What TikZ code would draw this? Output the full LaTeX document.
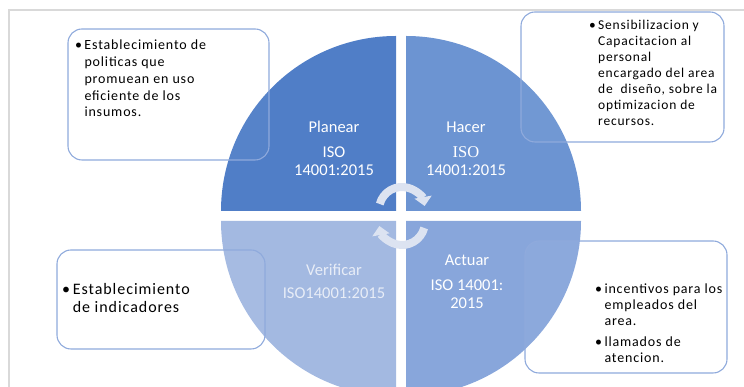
\documentclass[tikz,border=0pt]{standalone}
\usepackage{fontspec}
\setmainfont{Carlito}
\newfontfamily\isoserif{Liberation Serif}
\newfontfamily\cajafont[LetterSpace=6]{Carlito}
\usetikzlibrary{arrows.meta}
\definecolor{planearazul}{HTML}{507EC7}
\definecolor{hacerazul}{HTML}{6C94D2}
\definecolor{actuarazul}{HTML}{88A6DB}
\definecolor{verifazul}{HTML}{A3B9E1}
\definecolor{bordecaja}{HTML}{8FAADC}
\definecolor{flecha}{HTML}{DCE3F1}
\definecolor{marcogris}{HTML}{D9D9D9}
\definecolor{textoclaro}{HTML}{E8EDF7}
\newcommand{\bala}{\textbullet\,}
\newcommand{\sangria}{\hphantom{\textbullet\,}}

\begin{document}
\begin{tikzpicture}[x=1pt,y=1pt,
	caja/.style={draw=bordecaja,line width=1.1pt,rounded corners=14pt,fill=white,fill opacity=0.04},
	nota/.style={anchor=north west,inner sep=0pt,align=left,text=black},
	etiqueta/.style={text=white,inner sep=0pt,font=\fontsize{16.5}{18}\selectfont},
	giro/.style={line width=8pt,draw=flecha,-{Triangle[width=17pt,length=9pt]}}]
			\useasboundingbox (0,0) rectangle (744,387);
			\draw[marcogris,line width=2pt] (9,0) -- (9,377) -- (744,377);
			
			\fill[planearazul] (396,176) -- ++(0,175) arc[start angle=90,end angle=180,radius=175] -- cycle;
			\fill[hacerazul] (406,176) -- ++(175,0) arc[start angle=0,end angle=90,radius=175] -- cycle;
			\fill[verifazul] (396,166) -- ++(-175,0) arc[start angle=180,end angle=270,radius=175] -- cycle;
			\fill[actuarazul] (406,166) -- ++(0,-175) arc[start angle=270,end angle=360,radius=175] -- cycle;
			
			\node (planear) at (334,260)[etiqueta]{Planear};
			\node (planeariso) at (334,235)[etiqueta]{ISO};
			\node (planearnum) at (334,217)[etiqueta]{14001:2015};
			
			\node (hacer) at (466,260)[etiqueta]{Hacer};
			\node (haceriso) at (466,235)[etiqueta,font=\isoserif\fontsize{16.5}{18}\selectfont]{ISO};
			\node (hacernum) at (466,217)[etiqueta]{14001:2015};
			
			\node (verificar) at (334,117)[etiqueta,text=textoclaro]{Verificar};
			\node (verificariso) at (334,94)[etiqueta,text=textoclaro]{ISO14001:2015};
			
			\node (actuar) at (467,127)[etiqueta]{Actuar};
			\node (actuariso) at (467,102)[etiqueta]{ISO 14001:};
			\node (actuarnum) at (467,84)[etiqueta]{2015};
			
			\coordinate (arriba) at (402,177);
			\coordinate (abajo) at (402,165);
			\draw[giro] (arriba) ++(165:23) arc[start angle=165,end angle=10,radius=23];
			\draw[giro] (abajo) ++(-15:23) arc[start angle=-15,end angle=-170,radius=23];
			
			\draw[caja] (68,358) rectangle (269,227);
			\draw[caja] (521,375) rectangle (724,245);
			\draw[caja] (57,137) rectangle (265,38);
			\draw[caja] (525,146) rectangle (727,14);
			
			\node (notaplanear) at (75,347)[nota,font=\cajafont\fontsize{14}{16.75}\selectfont]{\bala Establecimiento de\\ \sangria politicas que\\ \sangria promuean en uso\\ \sangria eficiente de los\\ \sangria insumos.};
			\node (notahacer) at (589,367)[nota,font=\cajafont\fontsize{13.5}{16}\selectfont]{\bala Sensibilizacion y\\ \sangria Capacitacion al\\ \sangria personal\\ \sangria encargado del area\\ \sangria de~ diseño, sobre la\\ \sangria optimizacion de\\ \sangria recursos.};
			\node (notaverificar) at (62,104)[nota,font=\cajafont\fontsize{16}{18}\selectfont]{\bala Establecimiento\\ \sangria de indicadores};
			\node (notaactuar) at (595,103)[nota,font=\cajafont\fontsize{14}{16}\selectfont]{\bala incentivos para los\\ \sangria empleados del\\ \sangria area.\\[5pt] \bala llamados de\\ \sangria atencion.};
		\end{tikzpicture}
\end{document}
